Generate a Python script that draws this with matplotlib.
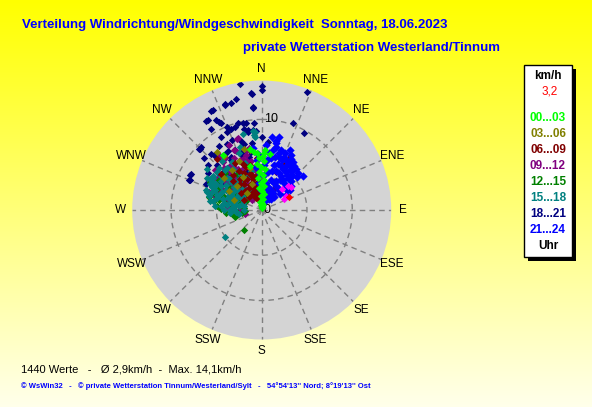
import numpy as np
import matplotlib
matplotlib.use('Agg')
import matplotlib.pyplot as plt
from matplotlib.patches import Rectangle

# ---------------- data ----------------
COMPASS = ['N', 'NNE', 'NE', 'ENE', 'E', 'ESE', 'SE', 'SSE',
           'S', 'SSW', 'SW', 'WSW', 'W', 'WNW', 'NW', 'NNW']
RINGS = [5, 10]
R_MAX = 14.3

LEGEND_LABELS = ['00...03', '03...06', '06...09', '09...12',
                 '12...15', '15...18', '18...21', '21...24']
LEGEND_COLORS = ['#00FF00', '#808000', '#800000', '#800080',
                 '#008000', '#008080', '#000080', '#0000FF']

TITLE1 = 'Verteilung Windrichtung/Windgeschwindigkeit  Sonntag, 18.06.2023'
TITLE2 = 'private Wetterstation Westerland/Tinnum'
FOOTER1 = '1440 Werte   -   \u00d8 2,9km/h  -  Max. 14,1km/h'
FOOTER2 = ("\u00a9 WsWin32   -   \u00a9 private Wetterstation Tinnum/Westerland/Sylt   -   "
           "54\u00b054'13'' Nord; 8\u00b019'13'' Ost")
CURRENT = '3,2'

# 18...21 (navy)
H18_DIR = [350, 0, 0, 355, 344, 341, 355, 334, 328, 333, 334, 335, 328, 337, 339, 342,
           345, 348, 350, 350, 350, 348, 337, 331, 336, 316, 356, 355, 21, 20, 29, 0,
           297, 292, 314, 296, 293, 333, 329, 341, 347, 355, 355, 354,
           315, 319, 327, 328, 315, 322, 318, 320, 325, 330, 310, 335, 340, 345, 305,
           300, 325, 332, 343, 310, 350, 352, 5, 312, 338, 322,
           315, 320, 326, 336, 341, 330, 318, 305, 312, 346, 339, 325, 300, 295]
H18_SPD = [14.1, 13.7, 13.3, 13.0, 12.3, 12.3, 11.3, 12.3, 11.6, 11.2, 10.8, 10.6, 10.6,
           9.9, 9.6, 9.6, 9.9, 9.8, 9.8, 9.0, 8.7, 9.2, 8.4, 9.2, 9.4, 9.7, 8.8, 12.9,
           14.0, 10.2, 9.7, 8.1, 8.8, 8.7, 9.7, 8.8, 8.6, 12.3, 11.6, 12.4, 12.6, 11.4,
           9.6, 8.9, 9.6, 8.0, 7.4, 6.5, 6.0, 5.1, 5.5, 6.0, 7.0, 7.5, 6.3, 5.0, 6.5,
           7.5, 5.0, 6.5, 4.0, 8.2, 8.0, 7.8, 6.5, 7.5, 7.5, 4.5, 4.6, 3.8,
           7.0, 7.8, 8.5, 7.2, 6.8, 6.8, 8.3, 7.2, 8.6, 6.0, 5.8, 6.0, 5.5, 6.8]

# 09...12 (purple)
H09_DIR = [342, 346, 336, 336, 335, 341, 343, 321, 293, 289, 256, 300, 310, 315, 320,
           325, 330, 335, 340, 345, 350, 305, 298, 312, 328, 338, 318, 308, 326, 348,
           285, 280, 295, 270, 355, 333, 322, 302, 315, 290, 330, 317, 306, 344,
           332, 327, 318, 312, 305, 298, 292, 340, 345, 322, 337, 352, 310, 287, 276,
           300, 325, 348, 313, 334]
H09_SPD = [8.4, 6.8, 6.0, 7.1, 7.3, 8.3, 5.7, 6.8, 5.2, 6.2, 1.9, 4.0, 4.5, 3.5, 5.5,
           4.5, 3.5, 5.0, 4.0, 3.0, 4.5, 6.0, 3.0, 2.5, 2.0, 2.8, 6.2, 5.0, 6.0, 5.5,
           4.0, 3.0, 2.0, 2.5, 3.5, 8.0, 7.5, 5.5, 1.5, 4.5, 5.2, 3.2, 2.8, 6.3,
           6.5, 5.5, 4.8, 3.8, 4.2, 5.0, 3.5, 6.0, 2.2, 3.0, 3.8, 2.8, 6.8, 5.5, 3.8,
           6.8, 7.0, 7.0, 5.6, 4.3]

# 12...15 (green)
H12_DIR = [284, 259, 262, 221, 255, 263, 290, 295, 300, 280, 270, 305, 310, 320, 330,
           285, 275, 288, 298, 312, 340, 350, 276, 266, 315, 325, 300, 293, 282,
           265, 272, 278, 283, 289, 295, 305, 320, 335, 268, 260, 300]
H12_SPD = [6.0, 2.8, 3.1, 2.9, 3.0, 3.3, 4.5, 5.5, 3.5, 4.0, 3.0, 4.5, 2.5, 3.0, 2.2,
           2.5, 5.0, 3.0, 6.5, 4.0, 2.0, 1.5, 2.0, 1.8, 5.8, 4.8, 2.0, 3.8, 5.3,
           4.0, 4.5, 3.2, 4.8, 5.5, 2.8, 5.8, 2.0, 2.0, 3.0, 2.2, 4.5]

# 15...18 (teal)
H15_DIR = [297, 293, 301, 288, 321, 273, 234, 278, 341, 346, 355, 355, 354, 354, 297,
           303, 285, 290, 295, 300, 305, 310, 315, 320, 325, 330, 335, 340, 310, 298,
           282, 286, 292, 305, 315, 325, 318, 312, 302, 295, 288, 280, 276, 270, 265,
           300, 308, 328, 335, 345, 350, 338, 322, 290, 283, 300, 307, 313, 296, 287,
           280, 280, 280, 285, 285, 290, 290, 290, 295, 295, 300, 300, 300, 300, 305,
           305, 305, 310, 310, 315, 315, 320, 320, 325, 330, 275, 275, 270, 270, 265,
           260]
H15_SPD = [6.1, 5.6, 6.7, 5.2, 6.9, 3.1, 5.0, 3.9, 7.4, 8.7, 8.6, 8.1, 8.8, 8.3, 6.4,
           6.4, 5.1, 4.0, 3.5, 4.5, 5.5, 4.0, 5.0, 3.5, 5.5, 4.5, 3.0, 5.5, 6.5, 2.5,
           3.0, 4.5, 2.2, 3.0, 2.8, 2.5, 6.0, 5.2, 3.8, 4.8, 6.3, 5.5, 4.5, 3.5, 2.8,
           5.2, 3.5, 6.2, 4.0, 4.5, 3.0, 6.8, 4.2, 5.8, 2.0, 7.0, 7.5, 4.6, 5.9, 3.6,
           2.5, 4.2, 5.8, 3.5, 6.0, 3.0, 5.0, 6.6, 4.0, 6.0, 3.0, 4.0, 5.8, 6.2, 2.5,
           4.8, 6.6, 3.0, 5.8, 4.0, 6.6, 3.0, 6.0, 3.8, 5.0, 3.2, 5.2, 2.0, 4.2, 3.5,
           2.5]

# 06...09 (maroon)
H06_DIR = [28, 26, 25, 14, 4, 319, 330, 335, 340, 325, 318, 345, 350, 310, 320, 338,
           300, 355, 10, 20, 35, 330, 345, 315, 6, 342, 312, 20, 333, 30,
           335, 335, 335, 335, 340, 340, 340, 345, 345, 345, 350, 350, 350, 330, 330,
           325, 325, 355, 355, 355, 320, 315]
H06_SPD = [6.5, 5.5, 3.4, 1.5, 2.4, 7.5, 4.0, 3.0, 2.5, 3.5, 2.8, 3.5, 2.0, 3.0, 5.0,
           5.5, 2.2, 4.5, 3.0, 4.5, 4.0, 6.0, 1.5, 4.5, 5.5, 4.2, 6.0, 2.0, 2.0, 2.5,
           1.5, 2.2, 3.8, 4.5, 1.8, 3.2, 5.0, 2.5, 4.0, 5.2, 1.0, 3.0, 3.8, 2.8, 5.0,
           2.0, 4.2, 1.2, 2.5, 5.8, 3.8, 2.0]

# 03...06 (olive)
H03_DIR = [344, 322, 349, 323, 325, 330, 315, 340, 300, 310, 335, 290, 320, 345]
H03_SPD = [7.0, 8.1, 6.7, 5.5, 7.3, 4.2, 3.8, 3.0, 4.2, 5.5, 6.0, 3.2, 2.5, 4.8]

# 21...24 (blue)
H21_DIR = [8, 12, 13, 12, 4, 11, 50, 18, 22, 25, 28, 30, 33, 36, 40, 44, 47, 42, 38, 34,
           30, 26, 22, 18, 14, 10, 6, 3, 15, 20, 24, 28, 32, 36, 40, 45, 50, 55, 58, 52,
           46, 40, 35, 30, 25, 20, 15, 10, 5, 18, 24, 30, 36, 42, 48, 16, 22, 28, 34, 9,
           14, 19, 27, 33, 39, 44, 26, 31, 37, 21, 352, 355, 357, 354, 358, 356, 353,
           17, 23, 29, 35, 41, 13, 7]
H21_SPD = [8.1, 7.8, 8.3, 7.6, 7.2, 6.7, 5.9, 7.0, 6.8, 7.3, 6.9, 6.5, 6.3, 6.0, 5.9,
           5.7, 5.3, 5.0, 5.5, 5.8, 6.1, 6.2, 6.0, 6.2, 6.0, 5.8, 5.5, 5.0, 5.2, 5.4,
           5.3, 5.1, 5.0, 4.8, 4.6, 4.5, 4.2, 3.8, 3.2, 3.5, 3.7, 3.9, 4.1, 4.3, 4.5,
           4.6, 4.5, 4.3, 4.0, 3.5, 3.3, 3.1, 3.0, 2.9, 2.7, 2.6, 2.5, 2.4, 2.2, 3.0,
           2.0, 1.8, 1.7, 1.5, 1.6, 2.0, 3.6, 3.9, 2.0, 1.2, 6.9, 5.5, 4.0, 3.0, 2.2,
           6.2, 4.8, 6.6, 6.4, 5.6, 5.4, 5.1, 7.1, 6.3]

# 00...03 (lime)
H00_DIR = [0, 10, 350, 5, 355, 8, 0, 352, 6, 358, 4, 354, 2, 356, 5, 359, 354, 3,
           357, 1, 355, 3, 349, 325, 352, 2, 8, 0, 355, 5, 345]
H00_SPD = [0.3, 0.6, 0.9, 1.2, 1.5, 1.8, 2.1, 2.4, 2.7, 3.0, 3.3, 3.6, 3.9, 4.2, 4.5,
           4.8, 5.1, 5.4, 5.7, 6.0, 6.3, 6.6, 6.9, 7.4, 6.5, 6.3, 6.3, 0.8, 0.5, 0.2,
           5.0]

# last hour (magenta) and current value (red)
LAST_DIR = [52, 44, 64, 61, 48]
LAST_SPD = [4.1, 3.2, 2.8, 3.1, 3.9]
NOW_DIR = [65]
NOW_SPD = [3.3]

# ---------------- figure ----------------
W, H = 592, 407
fig = plt.figure(figsize=(W / 100, H / 100), dpi=100)

# yellow vertical gradient background
bg = fig.add_axes([0, 0, 1, 1], zorder=-10)
t = np.linspace(0, 1, 256)[:, None]
top = np.array([1.0, 1.0, 0.0])
bottom = np.array([1.0, 1.0, 0.92])
grad = top[None, None, :] * (1 - t[..., None]) + bottom[None, None, :] * t[..., None]
grad = np.repeat(grad, 2, axis=1)
bg.imshow(grad, aspect='auto', extent=[0, 1, 0, 1])
bg.axis('off')

FONT = ['Liberation Sans', 'DejaVu Sans']

# polar axes geometry (pixels)
cx, cy, rad = 261.7, 210.0, 129.5
ax = fig.add_axes([(cx - rad) / W, (H - cy - rad) / H, 2 * rad / W, 2 * rad / H],
                  projection='polar')
ax.set_theta_zero_location('N')
ax.set_theta_direction(-1)
ax.set_ylim(0, R_MAX)
ax.set_facecolor('#D4D4D4')
ax.spines['polar'].set_visible(False)
ax.set_xticks(np.deg2rad(np.arange(0, 360, 22.5)))
ax.set_xticklabels([])
ax.set_yticks(RINGS)
ax.set_yticklabels([])
ax.grid(True, color='#808080', linestyle=(0, (4, 3)), linewidth=1.0)

for lbl, ang in zip(COMPASS, np.arange(0, 360, 22.5)):
    ax.text(np.deg2rad(ang), 15.55, lbl, ha='center', va='center', fontsize=8.5,
            family=FONT, color='black', clip_on=False)

ax.annotate('10', xy=(0, 10), xytext=(2, 0), textcoords='offset points',
            ha='left', va='center', fontsize=9, family=FONT, color='black')
ax.annotate('0', xy=(0, 0), xytext=(1, 0), textcoords='offset points',
            ha='left', va='center', fontsize=9, family=FONT, color='black')

groups = [
    (H18_DIR, H18_SPD, '#000080', 14),
    (H09_DIR, H09_SPD, '#800080', 14),
    (H12_DIR, H12_SPD, '#008000', 14),
    (H15_DIR, H15_SPD, '#008080', 14),
    (H06_DIR, H06_SPD, '#800000', 14),
    (H03_DIR, H03_SPD, '#808000', 14),
    (H21_DIR, H21_SPD, '#0000FF', 18),
    (H00_DIR, H00_SPD, '#00FF00', 14),
    (LAST_DIR, LAST_SPD, '#FF00FF', 14),
    (NOW_DIR, NOW_SPD, '#FF0000', 14),
]
for d, s, c, ms in groups:
    ax.scatter(np.deg2rad(d), s, s=ms, marker='D', color=c, linewidths=0, zorder=3)

# titles
fig.text(22 / W, 1 - 25 / H, TITLE1, ha='left', va='center', fontsize=9.5,
         fontweight='bold', color='#0000FF', family=FONT)
fig.text(243 / W, 1 - 48 / H, TITLE2, ha='left', va='center', fontsize=9.5,
         fontweight='bold', color='#0000FF', family=FONT)

# legend box with shadow
fig.patches.append(Rectangle((528 / W, (H - 261) / H), 48 / W, 192 / H,
                             transform=fig.transFigure, facecolor='black',
                             edgecolor='none', zorder=1))
fig.patches.append(Rectangle((524 / W, (H - 257) / H), 48 / W, 192 / H,
                             transform=fig.transFigure, facecolor='white',
                             edgecolor='black', linewidth=1, zorder=2))
lx = 548 / W
fig.text(lx, 1 - 76 / H, 'km/h', ha='center', va='center', fontsize=8.5,
         fontweight='bold', color='black', family=FONT, zorder=3)
fig.text(lx + 2 / W, 1 - 91 / H, CURRENT, ha='center', va='center', fontsize=8.5,
         color='#FF0000', family=FONT, zorder=3)
ys = [118.3, 134, 150, 166, 181.7, 197.7, 214, 230]
for lbl, c, y in zip(LEGEND_LABELS, LEGEND_COLORS, ys):
    fig.text(lx, 1 - y / H, lbl, ha='center', va='center', fontsize=8.5,
             fontweight='bold', color=c, family=FONT, zorder=3)
fig.text(lx, 1 - 245.7 / H, 'Uhr', ha='center', va='center', fontsize=8.5,
         fontweight='bold', color='black', family=FONT, zorder=3)

# footer
fig.text(20.7 / W, 1 - 369 / H, FOOTER1, ha='left', va='center', fontsize=8,
         color='black', family=FONT)
fig.text(20.7 / W, 1 - 386 / H, FOOTER2, ha='left', va='center', fontsize=5.5,
         fontweight='bold', color='#0000FF', family=FONT)

fig.savefig('out.png', dpi=100)
